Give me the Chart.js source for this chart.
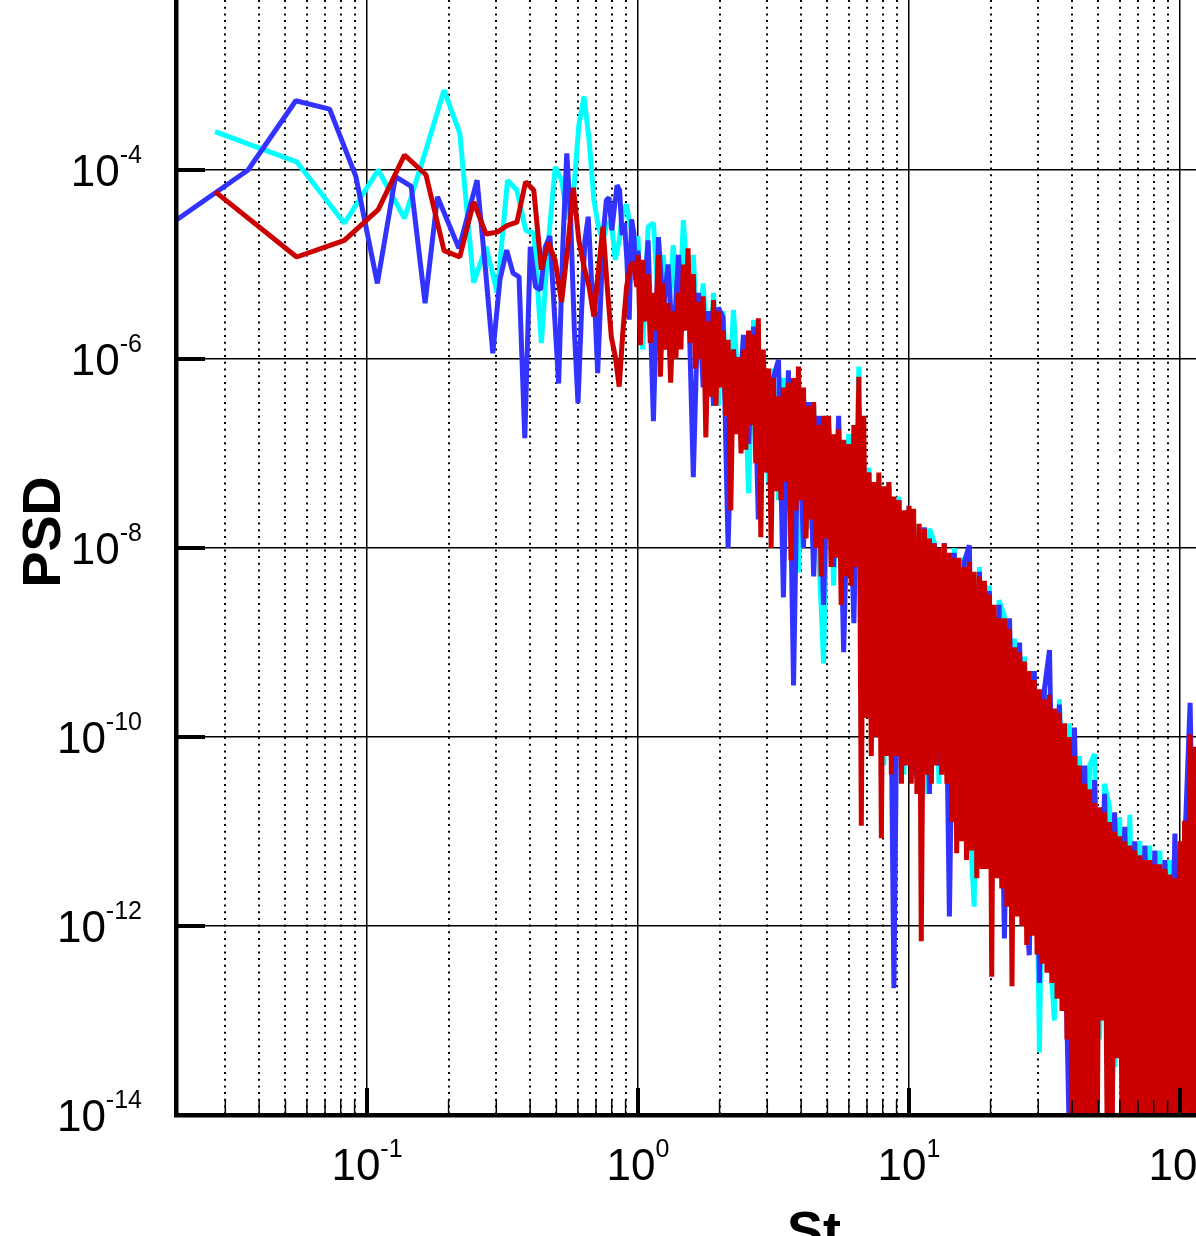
<!DOCTYPE html>
<html><head><meta charset="utf-8">
<script src="https://cdn.jsdelivr.net/npm/chart.js@4.4.1/dist/chart.umd.min.js"></script>
<style>html,body{margin:0;padding:0;background:#fff;overflow:hidden}#wrap{position:relative;width:1196px;height:1236px}</style>
</head><body><div id="wrap"><canvas id="c"></canvas></div>
<script>
// ---- axis ranges & ticks ----
const X_MIN = 0.01973, X_MAX = 114.6;
const Y_MIN = 1e-14, Y_MAX = 6.29e-3;
const xMajorTicks = [0.1, 1, 10, 100];
const xMajorLabels = ['-1', '0', '1', '2'];
const xMinorTicks = [0.03,0.04,0.05,0.06,0.07,0.08,0.09,0.2,0.3,0.4,0.5,0.6,0.7,0.8,0.9,2,3,4,5,6,7,8,9,20,30,40,50,60,70,80,90];
const yTicks = [1e-14, 1e-12, 1e-10, 1e-8, 1e-6, 1e-4];
const yLabels = ['-14', '-12', '-10', '-8', '-6', '-4'];
const xTitle = 'St', yTitle = 'PSD';

// ---- low-frequency part (individual spectral lines) ----
const lowStRC = [0.0275,0.055,0.0825,0.11,0.1375,0.165,0.1925,0.22,0.2475,0.275,0.3025,0.33,0.3575,0.385,0.4125,0.44,0.4675,0.495,0.5225,0.55,0.5775,0.605,0.6325,0.66,0.6875,0.715,0.7425,0.77,0.7975,0.825,0.8525,0.88,0.9075,0.935,0.9625,0.99];
const redLowPsd = [5.9e-5,1.2e-5,1.8e-5,3.8e-5,1.44e-4,8.9e-5,1.4e-5,1.2e-5,4.6e-5,2.1e-5,
2.2e-5,2.6e-5,2.8e-5,7.5e-5,6.1e-5,8.8e-6,1.7e-5,1.1e-5,4.0e-6,1.5e-5,
6.5e-5,1.8e-5,9.4e-6,5.8e-6,2.8e-6,8.8e-6,2.5e-5,5.8e-6,1.7e-6,1.05e-6,
5.1e-7,2.0e-6,5.8e-6,9.4e-6,1.06e-5,5.8e-6];
const cyanLowPsd = [2.54e-4,1.22e-4,2.73e-5,1.0e-4,3.08e-5,1.63e-4,7.0e-4,2.44e-4,6.4e-6,1.54e-5,
5.0e-6,7.8e-5,6.1e-5,2.3e-5,2.15e-5,1.47e-6,1.8e-5,1.08e-4,7.8e-5,3.0e-5,
5.4e-5,3.0e-4,6.0e-4,2.07e-4,4.8e-5,2.5e-5,1.8e-5,2.75e-5,2.75e-5,1.12e-5,
1.8e-5,3.8e-5,4.3e-5,2.6e-5,2.05e-5,1.42e-5];
const blueLowSt = [0.0182,0.0364,0.0546,0.0728,0.091,0.1092,0.1274,0.1456,0.1638,0.182,
0.2002,0.2184,0.2366,0.2548,0.273,0.2912,0.3094,0.3276,0.3458,0.364,
0.3822,0.4004,0.4186,0.4368,0.455,0.4732,0.4914,0.5096,0.5278,0.546,
0.5642,0.5824,0.6006,0.6188,0.637,0.6552,0.6734,0.6916,0.7098,0.728,
0.7462,0.7644,0.7826,0.8008,0.819,0.8372,0.8554,0.8736,0.8918,0.91,
0.9282,0.9464,0.9646,0.9828];
const blueLowPsd = [2.5e-5,1.0e-4,5.4e-4,4.4e-4,8.5e-5,6.3e-6,8.5e-5,6.7e-5,3.9e-6,5.2e-5,
2.7e-5,1.48e-5,3.5e-5,7.8e-5,9.5e-6,1.15e-6,6.9e-6,1.42e-5,8.1e-6,7.4e-6,
1.45e-7,1.54e-5,5.8e-6,5.4e-6,1.54e-5,2.0e-5,3.1e-6,5.5e-7,1.54e-5,1.5e-4,
3.0e-5,2.0e-6,3.4e-7,3.1e-6,1.8e-5,3.2e-5,6.9e-6,4.2e-6,7.1e-7,4.2e-6,
2.3e-5,4.8e-5,5.1e-5,2.3e-5,4.1e-5,6.9e-5,6.1e-5,2.05e-5,2.75e-5,1.12e-5,
2.6e-6,3.0e-5,2.2e-5,6.9e-6];

// ---- dense part (St >= 1), values read along the noisy band ----
const denseSt = [1.00,1.04,1.09,1.14,1.19,1.24,1.29,1.35,1.41,1.47,
1.53,1.60,1.67,1.74,1.82,1.90,1.98,2.06,2.15,2.25,
2.35,2.45,2.56,2.67,2.78,2.90,3.03,3.16,3.30,3.44,
3.59,3.75,3.91,4.08,4.26,4.45,4.64,4.84,5.05,5.27,
5.50,5.74,5.99,6.26,6.53,6.81,7.11,7.42,7.74,8.08,
8.43,8.80,9.18,9.58,10.0,10.4,10.9,11.4,11.9,12.4,
12.9,13.5,14.1,14.7,15.3,16.0,16.7,17.4,18.2,19.0,
19.8,20.6,21.5,22.5,23.5,24.5,25.6,26.7,27.8,29.0,
30.3,31.6,33.0,34.4,35.9,37.5,39.1,40.8,42.6,44.5,
46.4,48.4,50.5,52.7,55.0,57.4,59.9,62.6,65.3,68.1,
71.1,74.2,77.4,80.8,84.3,88.0,91.8,95.8,100,104,
109,114,119];
const denseStHalf = [1.02,1.07,1.11,1.16,1.21,1.26,1.32,1.38,1.44,1.50,
1.56,1.63,1.70,1.78,1.86,1.94,2.02,2.11,2.20,2.30,
2.40,2.50,2.61,2.72,2.84,2.97,3.10,3.23,3.37,3.52,
3.67,3.83,4.00,4.17,4.35,4.54,4.74,4.95,5.16,5.39,
5.62,5.87,6.12,6.39,6.67,6.96,7.26,7.58,7.91,8.25,
8.61,8.99,9.38,9.79,10.2,10.7,11.1,11.6,12.1,12.6,
13.2,13.8,14.4,15.0,15.6,16.3,17.0,17.8,18.6,19.4,
20.2,21.1,22.0,23.0,24.0,25.0,26.1,27.2,28.4,29.7,
31.0,32.3,33.7,35.2,36.7,38.3,40.0,41.7,43.5,45.4,
47.4,49.5,51.6,53.9,56.2,58.7,61.2,63.9,66.7,69.6,
72.6,75.8,79.1,82.5,86.1,89.9,93.8,97.9,102,107,
111,116];
// red: upper tips at denseSt, lower tips at denseStHalf
const redTopPsd = [1.26e-5,1.12e-5,7.9e-6,5.0e-6,1.26e-5,6.3e-6,3.9e-6,3.2e-6,5.0e-6,1.0e-5,
1.48e-5,7.9e-6,4.0e-6,4.6e-6,2.5e-6,4.2e-6,3.2e-6,2.0e-6,1.6e-6,1.26e-6,
1.05e-6,1.26e-6,2.0e-6,1.8e-6,2.7e-6,1.26e-6,7.9e-7,6.3e-7,4.0e-7,5.0e-7,
5.6e-7,6.3e-7,8.3e-7,5.0e-7,3.2e-7,3.5e-7,2.0e-7,2.5e-7,2.5e-7,1.6e-7,
1.8e-7,1.4e-7,1.26e-7,2.0e-7,6.5e-7,2.5e-7,6.3e-8,5.0e-8,6.3e-8,4.5e-8,
5.0e-8,3.5e-8,3.2e-8,2.5e-8,2.8e-8,2.6e-8,1.8e-8,1.6e-8,1.26e-8,1.12e-8,
1.0e-8,1.12e-8,8.9e-9,7.9e-9,7.9e-9,6.3e-9,7.1e-9,5.6e-9,5.0e-9,4.5e-9,
3.2e-9,2.5e-9,1.8e-9,1.8e-9,1.4e-9,8.9e-10,7.9e-10,6.3e-10,5.0e-10,4.0e-10,
3.2e-10,2.5e-10,2.8e-10,2.0e-10,1.8e-10,1.4e-10,1.0e-10,6.3e-11,5.0e-11,3.2e-11,
2.8e-11,2.0e-11,1.8e-11,1.6e-11,1.26e-11,1.0e-11,8.9e-12,7.9e-12,7.1e-12,6.3e-12,
5.6e-12,5.0e-12,5.0e-12,4.5e-12,4.5e-12,4.0e-12,3.5e-12,3.2e-12,7.9e-12,1.3e-11,
1.07e-10,7.9e-11,1.0e-10];
const redBotPsd = [1.4e-6,2.5e-6,1.48e-6,2.0e-6,6.5e-7,1.26e-6,5.6e-7,1.0e-6,1.26e-6,2.0e-6,
1.48e-6,7.9e-7,1.0e-6,1.48e-7,4.0e-7,3.2e-7,5.0e-7,2.5e-7,2.5e-8,1.6e-7,
1.0e-7,1.1e-7,2.0e-7,7.9e-8,1.3e-8,6.3e-8,1.0e-8,4.0e-8,3.2e-8,5.0e-8,
7.4e-9,2.5e-8,3.2e-8,1.26e-8,2.0e-8,1.0e-8,5.0e-9,1.26e-8,6.3e-9,7.9e-9,
2.5e-9,5.0e-9,4.0e-9,6.3e-9,1.15e-11,1.6e-10,6.3e-11,1.0e-10,8.5e-12,6.3e-11,
4.0e-11,6.3e-11,3.2e-11,5.0e-11,3.2e-11,2.5e-11,6.9e-13,4.0e-11,3.2e-11,5.0e-11,
4.0e-11,3.2e-11,1.26e-11,5.9e-12,7.9e-12,5.0e-12,6.3e-12,3.2e-12,4.0e-12,4.0e-12,
2.9e-13,3.2e-12,2.5e-12,1.6e-12,2.3e-13,1.26e-12,1.0e-12,6.3e-13,7.9e-13,5.0e-13,
4.0e-13,3.2e-13,2.5e-13,1.7e-13,1.26e-13,6.3e-14,5e-15,5e-15,5e-15,5e-15,
5e-15,5e-15,1.0e-13,5e-15,5e-15,4.0e-14,5e-15,5e-15,5e-15,5e-15,
5e-15,5e-15,5e-15,5e-15,5e-15,5e-15,5e-15,5e-15,5e-15,5e-15,
5e-15,5e-15];
const blueDensePsd = [1.4e-5,2.5e-6,1.8e-5,2.2e-7,1.95e-5,3.2e-6,1.0e-5,1.26e-6,1.26e-5,2.0e-6,
7.9e-6,5.6e-8,5.0e-6,5.0e-7,3.2e-6,3.2e-7,3.5e-6,2.75e-6,1.0e-8,1.26e-6,
2.5e-7,1.8e-6,1.26e-7,2.2e-6,2.0e-8,7.9e-7,6.3e-8,6.3e-7,9.8e-7,3.0e-9,
7.6e-7,3.5e-10,5.0e-7,1.0e-8,3.5e-7,5.0e-9,2.5e-7,2.5e-9,2.0e-7,6.3e-9,
2.5e-7,7.9e-10,1.26e-7,1.6e-9,3.2e-7,5.0e-10,6.3e-8,1.5e-10,5.0e-8,6.3e-11,
4.5e-8,2.2e-13,3.2e-8,1.0e-10,2.5e-8,5.0e-11,3.2e-11,1.66e-8,2.5e-11,1.12e-8,
5.0e-11,1.12e-8,1.26e-12,8.9e-9,1.6e-11,7.1e-9,1.07e-8,1.0e-11,5.6e-9,1.26e-11,
3.5e-9,5.0e-12,2.5e-9,7.4e-13,1.8e-9,4.0e-12,1.0e-9,2.5e-12,4.9e-13,5.0e-10,
2.5e-13,3.2e-10,8.3e-10,1.0e-12,2.2e-10,1.6e-12,5e-15,1.26e-10,3.2e-13,5.0e-11,
5.0e-14,3.5e-11,1.6e-13,2.5e-11,1.0e-13,1.6e-11,2.5e-13,1.12e-11,5e-15,7.9e-12,
5e-15,7.1e-12,1.26e-13,6.3e-12,5e-15,5.0e-12,3.2e-14,9.5e-12,5e-15,6.3e-12,
2.3e-10,1.0e-13,1.6e-10];
const cyanDensePsd = [2.0e-5,1.26e-6,2.5e-5,2.75e-5,4.0e-6,1.26e-5,2.5e-6,1.6e-5,1.6e-6,2.95e-5,
5.0e-6,1.26e-5,1.0e-6,6.3e-6,6.3e-7,5.0e-6,3.2e-7,3.2e-6,2.0e-7,3.3e-6,
4.0e-7,1.6e-6,3.8e-8,2.6e-6,1.26e-7,1.0e-6,5.0e-8,7.9e-7,3.2e-8,6.3e-7,
2.5e-8,5.6e-7,5.5e-9,4.5e-7,1.6e-8,3.2e-7,1.0e-8,6.0e-10,2.5e-7,4.0e-9,
2.0e-7,2.0e-9,1.6e-7,3.2e-9,8.3e-7,1.6e-10,7.1e-8,2.5e-10,5.6e-8,5.0e-11,
5.0e-8,1.0e-10,3.5e-8,4.0e-11,2.8e-8,6.3e-11,1.8e-8,2.5e-11,1.6e-8,1.15e-8,
3.2e-11,1.12e-8,1.26e-11,1.0e-8,2.0e-11,7.9e-9,1.6e-11,1.6e-12,6.3e-9,1.0e-11,
4.0e-9,5.0e-12,2.8e-9,1.9e-9,3.2e-12,1.1e-9,1.6e-12,7.1e-10,7.9e-13,5.0e-10,
4.6e-14,3.2e-10,6.3e-13,1.0e-13,2.5e-10,3.2e-13,1.4e-10,1.0e-13,6.3e-11,1.6e-13,
5.0e-11,6.6e-11,6.3e-14,3.2e-11,1.8e-11,3.2e-14,1.4e-11,1.0e-13,1.5e-11,1.6e-14,
7.9e-12,6.3e-14,7.1e-12,5e-15,6.3e-12,3.2e-14,5.0e-12,5e-15,6.3e-12,1.0e-13,
1.0e-10,3.2e-14,6.3e-11];

function pairs(xs, ys) { return xs.map((x, i) => ({ x: x, y: ys[i] })); }
const byX = (a, b) => a.x - b.x;
const redData = pairs(lowStRC, redLowPsd)
  .concat(pairs(denseSt, redTopPsd).concat(pairs(denseStHalf, redBotPsd)).sort(byX));
const cyanData = pairs(lowStRC, cyanLowPsd).concat(pairs(denseSt, cyanDensePsd));
const blueData = pairs(blueLowSt, blueLowPsd).concat(pairs(denseSt, blueDensePsd));

const FONT = '"Liberation Sans", Arial, Helvetica, sans-serif';

const frame = {
  id: 'frame',
  afterDraw(chart) {
    const ctx = chart.ctx, a = chart.chartArea, xs = chart.scales.x, ys = chart.scales.y;
    ctx.save();
    ctx.strokeStyle = '#000';
    ctx.lineCap = 'butt';
    const seg = (x1, y1, x2, y2) => { ctx.beginPath(); ctx.moveTo(x1, y1); ctx.lineTo(x2, y2); ctx.stroke(); };
    ctx.lineWidth = 4;
    yTicks.forEach(v => { const p = ys.getPixelForValue(v); seg(a.left, p, a.left + 29, p); });
    xMajorTicks.forEach(v => { const p = xs.getPixelForValue(v); seg(p, a.bottom, p, a.bottom - 27); });
    ctx.lineWidth = 1.5;
    xMinorTicks.forEach(v => { const p = xs.getPixelForValue(v); seg(p, a.bottom, p, a.bottom - 15); });
    ctx.fillStyle = '#000';
    ctx.textBaseline = 'alphabetic';
    ctx.textAlign = 'left';
    const big = '44px ' + FONT, small = '25px ' + FONT;
    yTicks.forEach((v, i) => {
      const p = ys.getPixelForValue(v);
      ctx.font = big; const wb = ctx.measureText('10').width;
      ctx.font = small; const ws = ctx.measureText(yLabels[i]).width;
      const right = 142;
      ctx.font = big; ctx.fillText('10', right - ws - wb, p + 16);
      ctx.font = small; ctx.fillText(yLabels[i], right - ws, p - 7);
    });
    xMajorTicks.forEach((v, i) => {
      const p = xs.getPixelForValue(v);
      ctx.font = big; const wb = ctx.measureText('10').width;
      ctx.font = small; const ws = ctx.measureText(xMajorLabels[i]).width;
      const left = p - (wb + ws) / 2;
      ctx.font = big; ctx.fillText('10', left, a.bottom + 65);
      ctx.font = small; ctx.fillText(xMajorLabels[i], left + wb, a.bottom + 42);
    });
    ctx.font = 'bold 54px ' + FONT;
    ctx.textAlign = 'center';
    ctx.fillText(xTitle, 814, a.bottom + 134);
    ctx.save();
    ctx.translate(60, 532);
    ctx.rotate(-Math.PI / 2);
    ctx.fillText(yTitle, 0, 0);
    ctx.restore();
    ctx.restore();
  }
};

new Chart(document.getElementById('c'), {
  type: 'scatter',
  data: {
    datasets: [
      { label: 'red', data: redData, borderColor: '#cc0000', backgroundColor: '#cc0000', showLine: true, borderWidth: 5, pointRadius: 0, order: 0 },
      { label: 'blue', data: blueData, borderColor: '#3333ff', backgroundColor: '#3333ff', showLine: true, borderWidth: 5, pointRadius: 0, order: 1 },
      { label: 'cyan', data: cyanData, borderColor: '#00ffff', backgroundColor: '#00ffff', showLine: true, borderWidth: 5, pointRadius: 0, order: 2 }
    ]
  },
  options: {
    responsive: true,
    maintainAspectRatio: false,
    animation: false,
    devicePixelRatio: 1,
    events: [],
    layout: { padding: 0 },
    elements: { line: { tension: 0, borderJoinStyle: 'bevel', fill: false }, point: { radius: 0, hoverRadius: 0 } },
    plugins: { legend: { display: false }, tooltip: { enabled: false } },
    scales: {
      x: {
        type: 'logarithmic', position: 'bottom', min: X_MIN, max: X_MAX,
        afterBuildTicks: s => { s.ticks = xMajorTicks.map(v => ({ value: v })); },
        afterFit: s => { s.height = 121; },
        ticks: { display: false },
        grid: { color: '#000', lineWidth: 1.5, drawTicks: false },
        border: { display: true, color: '#000', width: 4.5, z: 1 }
      },
      xm: {
        axis: 'x', type: 'logarithmic', position: 'bottom', min: X_MIN, max: X_MAX,
        afterBuildTicks: s => { s.ticks = xMinorTicks.map(v => ({ value: v })); },
        afterFit: s => { s.height = 0; },
        ticks: { display: false },
        grid: { color: '#000', lineWidth: 2, drawTicks: false },
        border: { display: false, dash: [2, 4.7] }
      },
      y: {
        type: 'logarithmic', position: 'left', min: Y_MIN, max: Y_MAX,
        afterBuildTicks: s => { s.ticks = yTicks.map(v => ({ value: v })); },
        afterFit: s => { s.width = 176; },
        ticks: { display: false },
        grid: { color: '#000', lineWidth: 1.5, drawTicks: false },
        border: { display: true, color: '#000', width: 4.5, z: 1 }
      }
    }
  },
  plugins: [frame]
});
</script></body></html>
